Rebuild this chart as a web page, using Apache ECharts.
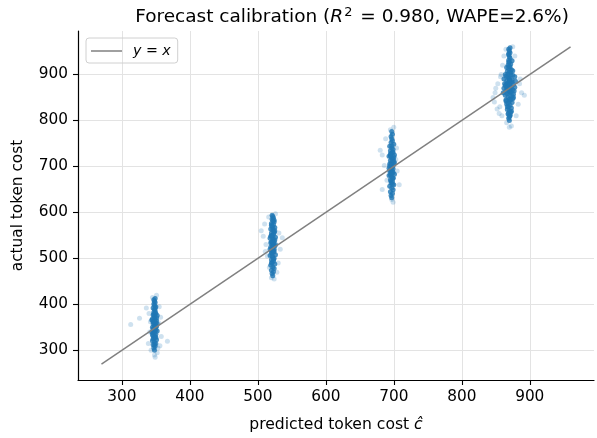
<!DOCTYPE html>
<html><head><meta charset="utf-8">
<script src="https://cdn.jsdelivr.net/npm/echarts@6/dist/echarts.min.js"></script>
<style>html,body{margin:0;padding:0;background:#fff}#c{width:597px;height:438px}</style>
</head><body><div id="c"></div>
<script>
const xTicks = [300,400,500,600,700,800,900];
const yTicks = [300,400,500,600,700,800,900];
const identityLine = [[270,270],[960,960]];

const cluster1Core = [[348,300],[347,305],[349,309],[346,312],[350,315],[348,318],[345,321],[351,323],[347,326],[349,329],[346,332],[350,335],[348,337],[344,340],[352,342],[347,345],[349,347],[345,350],[351,352],[348,355],[346,358],[350,360],[347,363],[349,366],[345,368],[351,371],[348,374],[346,377],[350,380],[347,383],[349,386],[348,389],[346,392],[350,395],[348,398],[347,401],[349,404],[348,407],[347,410],[349,413],[346,338],[350,344],[347,349],[349,356],[346,362],[351,365],[348,372],[347,378],[349,382],[348,330],[346,325],[350,328],[348,312],[349,392],[345,334],[352,358],[344,366],[352,376],[346,346],[350,352],[348,362],[348,342]];
const cluster1Spread = [[313,356],[326,370],[336,392],[340,380],[341,340],[358,330],[367,320],[356,310],[355,395],[343,300],[352,295],[348,290],[349,285],[345,415],[351,420],[354,360],[342,362],[357,372],[339,315],[353,305]];

const cluster2Core = [[522,462],[521,467],[523,471],[520,474],[524,478],[522,481],[519,485],[525,488],[521,491],[523,494],[520,497],[524,500],[522,503],[518,506],[526,508],[521,511],[523,514],[520,517],[524,520],[522,522],[519,525],[525,527],[521,530],[523,533],[520,536],[524,538],[522,541],[518,544],[526,546],[521,549],[523,552],[520,555],[524,558],[522,561],[519,564],[525,567],[521,570],[523,573],[520,576],[524,579],[522,582],[521,585],[523,588],[522,591],[521,594],[520,512],[524,515],[521,523],[523,528],[519,534],[525,540],[522,545],[520,550],[524,556],[521,505],[523,498],[522,565],[520,572],[518,520],[526,530],[519,548],[525,560],[522,535],[522,518],[520,490],[524,583]];
const cluster2Spread = [[505,560],[508,548],[510,575],[512,530],[514,505],[530,490],[533,520],[528,470],[531,555],[516,590],[526,597],[520,458],[524,455],[517,480],[536,545],[511,515]];

const cluster3Core = [[697,632],[696,637],[698,641],[695,645],[699,649],[697,653],[694,657],[700,660],[696,664],[698,667],[695,671],[699,674],[697,677],[693,680],[701,683],[696,686],[698,689],[695,692],[699,695],[697,698],[694,701],[700,704],[696,707],[698,710],[695,713],[699,716],[697,719],[693,722],[701,725],[696,728],[698,731],[695,734],[699,737],[697,740],[694,744],[700,748],[696,752],[698,756],[697,760],[696,765],[698,770],[697,776],[695,682],[699,687],[696,694],[698,700],[694,705],[700,712],[697,717],[695,723],[699,730],[696,668],[698,662],[697,745],[693,696],[701,708],[694,690],[700,720],[697,703],[697,685],[695,727],[699,675]];
const cluster3Spread = [[680,735],[683,725],[686,702],[688,760],[683,650],[705,690],[708,660],[704,740],[700,785],[695,780],[697,628],[699,622],[690,670],[703,715]];

const cluster4Core = [[870,800],[869,805],[871,810],[868,814],[872,818],[870,821],[867,824],[873,827],[869,830],[871,833],[866,836],[874,839],[870,842],[865,845],[875,847],[868,850],[872,852],[864,855],[876,857],[869,860],[871,862],[865,865],[875,867],[867,869],[873,871],[870,874],[864,876],[876,878],[868,881],[872,883],[866,886],[874,888],[869,891],[871,893],[865,896],[875,898],[868,901],[872,904],[867,907],[873,910],[869,913],[871,916],[868,920],[872,923],[870,927],[869,931],[871,935],[870,939],[869,943],[871,947],[870,951],[869,955],[867,858],[873,862],[869,868],[871,877],[866,880],[874,884],[870,889],[868,895],[872,899],[870,905],[866,872],[874,853],[870,846],[868,838],[872,845],[870,886],[869,878],[871,870],[870,864],[870,918],[869,926],[871,812],[869,816],[862,870],[878,872],[863,880],[877,864],[861,860],[879,885],[864,900],[876,850],[866,915],[874,930],[867,830],[873,820],[862,890],[878,895],[865,842],[875,908],[869,945],[871,958],[870,808]];
const cluster4Spread = [[846,850],[848,840],[850,870],[852,825],[855,815],[853,880],[858,900],[857,895],[860,920],[862,940],[865,955],[875,960],[888,860],[892,855],[885,880],[883,835],[880,810],[866,795],[870,785],[873,788],[878,940],[856,830],[859,810],[886,890],[849,860]];

const coreData = [].concat(cluster1Core, cluster2Core, cluster3Core, cluster4Core);
const spreadData = [].concat(cluster1Spread, cluster2Spread, cluster3Spread, cluster4Spread);

const FONT = 'DejaVu Sans';
const chart = echarts.init(document.getElementById('c'), null, {renderer:'canvas'});
chart.setOption({
  animation:false,
  backgroundColor:'#fff',
  textStyle:{fontFamily:FONT},
  title:{
    text:'{t|Forecast calibration (}{i|R}{s|2}{t| = 0.980, WAPE=2.6%)}',
    left:347, top:1, textAlign:'center',
    textStyle:{fontFamily:FONT, fontWeight:'normal', rich:{
      t:{fontSize:18.5, color:'#000', fontFamily:FONT, fontWeight:'normal'},
      i:{fontSize:18.5, color:'#000', fontStyle:'italic', fontFamily:FONT, fontWeight:'normal'},
      s:{fontSize:12.9, color:'#000', fontFamily:FONT, fontWeight:'normal', padding:[0,2,10,1]}
    }}
  },
  legend:{
    left:86, top:38, orient:'vertical',
    data:[{name:'y = x', icon:'rect'}],
    itemWidth:31, itemHeight:1.5, itemGap:4,
    borderColor:'#d0d0d0', borderWidth:1, borderRadius:3, padding:[6,7,5,5],
    formatter:function(){return '{i|y} = {i|x}';},
    textStyle:{fontSize:14.2, color:'#000', fontFamily:FONT, padding:[0,0,0,6],
      rich:{i:{fontStyle:'italic', fontSize:14.2, fontFamily:FONT}}}
  },
  grid:{left:78, right:3, top:31, bottom:58, containLabel:false},
  xAxis:{
    type:'value', min:235.5, max:994.5,
    name:'predicted token cost {i|ĉ}', nameLocation:'middle', nameGap:37, nameMoveOverlap:false,
    nameTextStyle:{fontSize:15.6, color:'#000', fontFamily:FONT, rich:{i:{fontStyle:'italic', fontSize:15.6, fontFamily:FONT}}},
    axisLine:{show:true, onZero:false, lineStyle:{color:'#000', width:1.2}},
    axisTick:{show:true, length:5, lineStyle:{color:'#000', width:1.1}, customValues:xTicks},
    axisLabel:{show:true, fontSize:15.3, color:'#000', margin:10, fontFamily:FONT, customValues:xTicks, hideOverlap:false},
    splitLine:{show:false}
  },
  yAxis:{
    type:'value', min:235.5, max:994.5,
    name:'actual token cost', nameLocation:'middle', nameGap:52, nameMoveOverlap:false,
    nameTextStyle:{fontSize:15.3, color:'#000', fontFamily:FONT},
    axisLine:{show:true, onZero:false, lineStyle:{color:'#000', width:1.2}},
    axisTick:{show:true, length:5, lineStyle:{color:'#000', width:1.1}, customValues:yTicks},
    axisLabel:{show:true, fontSize:15.3, color:'#000', margin:10, fontFamily:FONT, customValues:yTicks},
    splitLine:{show:false}
  },
  series:[
    {
      name:'grid', type:'scatter', data:[[300,300]], symbolSize:0, silent:true, z:0,
      markLine:{
        silent:true, z:0, symbol:['none','none'], label:{show:false},
        lineStyle:{color:'#e3e3e3', width:1, type:'solid'},
        data: xTicks.map(v=>({xAxis:v})).concat(yTicks.map(v=>({yAxis:v})))
      }
    },
    {
      name:'spread', type:'scatter', data:spreadData, symbolSize:5, z:2,
      itemStyle:{color:'#1f77b4', opacity:0.22}
    },
    {
      name:'core', type:'scatter', data:coreData, symbolSize:5, z:3,
      itemStyle:{color:'#1f77b4', opacity:0.8}
    },
    {
      name:'y = x', type:'line', data:identityLine, showSymbol:false, symbol:'none', z:5,
      lineStyle:{color:'#808080', width:1.5}, itemStyle:{color:'#808080'}
    }
  ]
});
</script></body></html>
